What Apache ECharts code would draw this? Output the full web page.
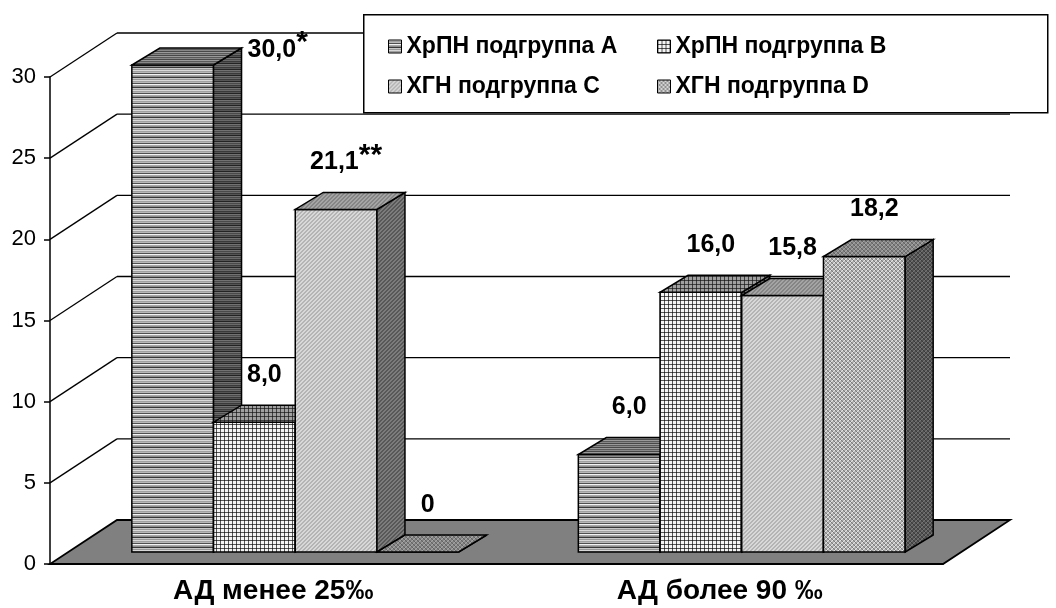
<!DOCTYPE html>
<html>
<head>
<meta charset="utf-8">
<script src="https://cdn.jsdelivr.net/npm/echarts@6/dist/echarts.min.js"></script>
<style>
  html, body { margin: 0; padding: 0; background: #fff; }
  #chart { width: 1056px; height: 608px; }
</style>
</head>
<body>
<div id="chart"></div>
<script>
// data
const categories = ['АД менее 25‰', 'АД более 90 ‰'];
const seriesNames = ['ХрПН подгруппа A', 'ХрПН подгруппа B', 'ХГН подгруппа C', 'ХГН подгруппа D'];
const valuesA = [30.0, 6.0];
const valuesB = [8.0, 16.0];
const valuesC = [21.1, 15.8];
const valuesD = [0, 18.2];
const notesA = ['*', ''];
const notesB = ['', ''];
const notesC = ['**', ''];
const notesD = ['', ''];
const yTicks = [0, 5, 10, 15, 20, 25, 30];

// fake 3d look
const WALL_DX = 67, WALL_DY = -44;
const BAR_DX = 28, BAR_DY = -17;
const FRONT_Y = -12, SHIFT_X = 22;
const BAR_FRAC = 0.183;
const FONT = '"Liberation Sans", Arial, sans-serif';

function makePattern(w, h, pixel) {
  const c = document.createElement('canvas');
  c.width = w; c.height = h;
  const ctx = c.getContext('2d');
  for (let y = 0; y < h; y++) {
    for (let x = 0; x < w; x++) {
      ctx.fillStyle = pixel(x, y);
      ctx.fillRect(x, y, 1, 1);
    }
  }
  return { image: c, repeat: 'repeat' };
}

const stripes = rows => makePattern(1, rows.length, (x, y) => rows[y]);
const grid4 = (bg, line, cross) => makePattern(4, 4, (x, y) =>
  (x === 0 && y === 0) ? cross : (x === 0 || y === 0) ? line : bg);
const diag = (a, b) => makePattern(4, 4, (x, y) => ((x + y) % 4 < 2 ? a : b));
const dMat = [[0, 2, 1, 3], [3, 1, 2, 0], [1, 3, 0, 2], [2, 0, 3, 1]];
const stipple = greys => makePattern(4, 4, (x, y) => greys[dMat[y][x]]);

const faces = [
  { // A
    front: stripes(['#d8d8d8', '#a0a0a0', '#b8b8b8', '#505050', '#f4f4f4', '#a8a8a8', '#8c8c8c', '#383838', '#c8c8c8', '#989898']),
    top: stripes(['#9a9a9a', '#5a5a5a', '#888888', '#484848']),
    side: stripes(['#6a6a6a', '#3a3a3a', '#555555', '#242424', '#727272', '#4a4a4a'])
  },
  { // B
    front: grid4('#f4f4f4', '#555555', '#202020'),
    top: grid4('#a0a0a0', '#404040', '#202020'),
    side: grid4('#707070', '#303030', '#101010')
  },
  { // C
    front: diag('#b4b4b4', '#d8d8d8'),
    top: diag('#858585', '#a4a4a4'),
    side: diag('#585858', '#7c7c7c')
  },
  { // D
    front: stipple(['#e4e4e4', '#a4a4a4', '#7c7c7c', '#c0c0c0']),
    top: stipple(['#a4a4a4', '#7c7c7c', '#646464', '#909090']),
    side: stipple(['#747474', '#4c4c4c', '#3c3c3c', '#606060'])
  }
];

const allValues = [valuesA, valuesB, valuesC, valuesD];
const allNotes = [notesA, notesB, notesC, notesD];

function fmt(v) {
  return v === 0 ? '0' : v.toFixed(1).replace('.', ',');
}

function sceneRenderer(params, api) {
  const cs = params.coordSys;
  const xL = cs.x, xR = cs.x + cs.width;
  const y0 = api.coord([0, 0])[1];
  const line = { stroke: '#000', lineWidth: 1.3 };
  const children = [{
    type: 'polygon',
    shape: { points: [[xL, y0], [xR, y0], [xR + WALL_DX, y0 + WALL_DY], [xL + WALL_DX, y0 + WALL_DY]] },
    style: { fill: '#808080', stroke: '#000', lineWidth: 1.8 }
  }];
  yTicks.forEach(t => {
    if (t === 0) return;
    const y = api.coord([0, t])[1];
    children.push({ type: 'line', shape: { x1: xL, y1: y, x2: xL + WALL_DX, y2: y + WALL_DY }, style: line });
    children.push({ type: 'line', shape: { x1: xL + WALL_DX, y1: y + WALL_DY, x2: xR + WALL_DX, y2: y + WALL_DY }, style: line });
  });
  return { type: 'group', children: children };
}

function barRenderer(s) {
  return function (params, api) {
    const cat = api.value(0);
    const v = api.value(1);
    const base = api.coord([cat, 0]);
    const top = api.coord([cat, v]);
    const bw = api.size([1, 0])[0] * BAR_FRAC;
    const x0 = base[0] - 2 * bw + s * bw + SHIFT_X;
    const x1 = x0 + bw;
    const yb = base[1] + FRONT_Y;
    const yt = top[1] + FRONT_Y;
    const f = faces[s];
    const edge = { stroke: '#000', lineWidth: 1.5 };
    const children = [
      { type: 'polygon', shape: { points: [[x0, yb], [x1, yb], [x1, yt], [x0, yt]] },
        style: Object.assign({ fill: f.front }, edge) },
      { type: 'polygon', shape: { points: [[x1, yb], [x1 + BAR_DX, yb + BAR_DY], [x1 + BAR_DX, yt + BAR_DY], [x1, yt]] },
        style: Object.assign({ fill: f.side }, edge) },
      { type: 'polygon', shape: { points: [[x0, yt], [x1, yt], [x1 + BAR_DX, yt + BAR_DY], [x0 + BAR_DX, yt + BAR_DY]] },
        style: Object.assign({ fill: f.top }, edge) }
    ];
    const note = allNotes[s][params.dataIndex];
    const txt = '{v|' + fmt(v) + '}' + (note ? '{s|' + note + '}' : '');
    let lx = (x0 + x1) / 2 + 10, ly = yt - 47, align = 'center';
    if (ly < params.coordSys.y - 10) {
      lx = x1 + BAR_DX + 6; ly = yt + BAR_DY + 2; align = 'left';
    }
    children.push({
      type: 'text', x: lx, y: ly,
      style: {
        text: txt, align: align, verticalAlign: 'middle',
        rich: {
          v: { fontSize: 25, fontWeight: 'bold', fontFamily: FONT, fill: '#000', lineHeight: 28 },
          s: { fontSize: 30, fontWeight: 'bold', fontFamily: FONT, fill: '#000', lineHeight: 28, padding: [0, 0, 14, 0] }
        }
      }
    });
    return { type: 'group', children: children };
  };
}

const chart = echarts.init(document.getElementById('chart'));

const series = [{
  type: 'custom',
  name: 'scene',
  z: 1,
  silent: true,
  renderItem: sceneRenderer,
  data: [[0, 0]]
}];
seriesNames.forEach((name, s) => {
  series.push({
    type: 'custom',
    name: name,
    z: 2,
    renderItem: barRenderer(s),
    itemStyle: { color: faces[s].front },
    encode: { x: 0, y: 1 },
    data: categories.map((c, i) => [i, allValues[s][i]])
  });
});

const legendBase = {
  orient: 'vertical',
  top: 30,
  itemGap: 17,
  itemWidth: 13,
  itemHeight: 13,
  icon: 'rect',
  z: 10,
  selectedMode: false,
  itemStyle: { borderColor: '#000', borderWidth: 1 },
  textStyle: { color: '#000', fontSize: 23, fontWeight: 'bold', fontFamily: FONT }
};

chart.setOption({
  animation: false,
  backgroundColor: '#fff',
  grid: { left: 50, right: 113, top: 77, bottom: 44, containLabel: false },
  graphic: {
    elements: [{
      type: 'rect', left: 363, top: 14, z: 5,
      shape: { width: 684, height: 98 },
      style: { fill: '#fff', stroke: '#000', lineWidth: 1.5 }
    }]
  },
  legend: [
    Object.assign({ left: 383, data: [seriesNames[0], seriesNames[2]] }, legendBase),
    Object.assign({ left: 652, data: [seriesNames[1], seriesNames[3]] }, legendBase)
  ],
  xAxis: {
    type: 'category',
    data: categories,
    axisLine: { lineStyle: { color: '#000', width: 1.5 } },
    axisTick: { length: 8, lineStyle: { color: '#000', width: 1.5 } },
    axisLabel: { color: '#000', fontSize: 28, fontWeight: 'bold', fontFamily: FONT, margin: 13 },
    splitLine: { show: false }
  },
  yAxis: {
    type: 'value',
    min: 0, max: 30, interval: 5,
    axisLine: { show: true, lineStyle: { color: '#000', width: 1.5 } },
    axisTick: { show: true, length: 6, lineStyle: { color: '#000', width: 1.5 } },
    axisLabel: { color: '#000', fontSize: 22, fontFamily: FONT, margin: 14 },
    splitLine: { show: false }
  },
  series: series
});

window.addEventListener('resize', function () {
  chart.resize();
});
</script>
</body>
</html>
